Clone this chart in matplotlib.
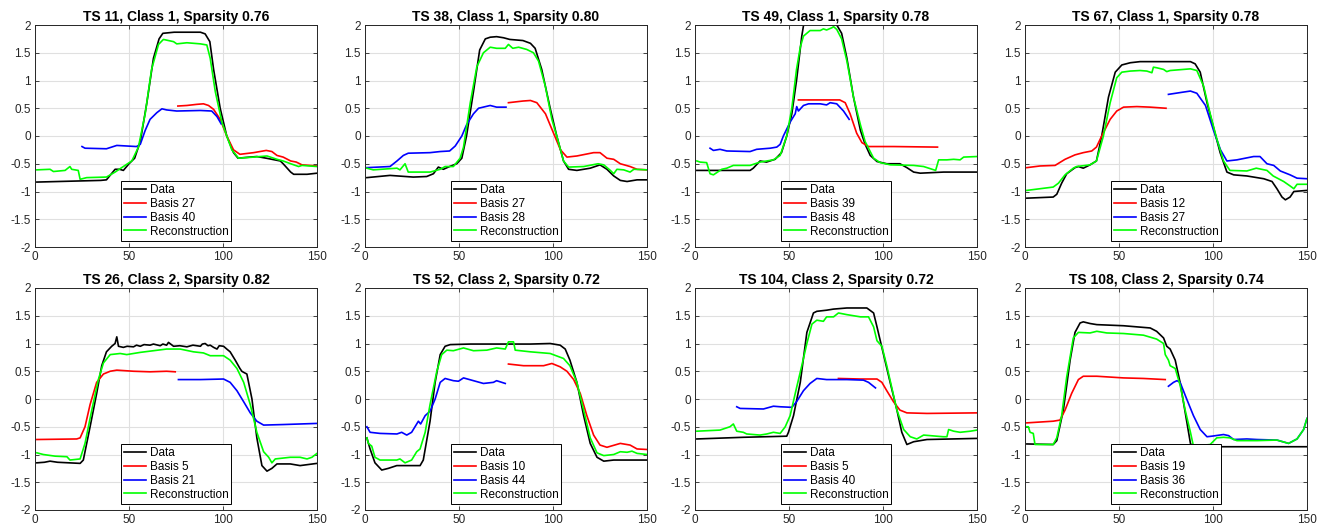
import matplotlib
matplotlib.use("Agg")
import matplotlib.pyplot as plt

plt.rcParams['font.family'] = ['Liberation Sans', 'DejaVu Sans']

# ---- panel titles and basis labels ----
titles = ["TS 11, Class 1, Sparsity 0.76", "TS 38, Class 1, Sparsity 0.80",
          "TS 49, Class 1, Sparsity 0.78", "TS 67, Class 1, Sparsity 0.78",
          "TS 26, Class 2, Sparsity 0.82", "TS 52, Class 2, Sparsity 0.72",
          "TS 104, Class 2, Sparsity 0.72", "TS 108, Class 2, Sparsity 0.74"]
red_labels = ["Basis 27", "Basis 27", "Basis 39", "Basis 12", "Basis 5", "Basis 10", "Basis 5", "Basis 19"]
blue_labels = ["Basis 40", "Basis 28", "Basis 48", "Basis 27", "Basis 21", "Basis 44", "Basis 40", "Basis 36"]

# ---- TS 11 ----
ts11_data_x = [1, 35, 38, 42.6, 45, 47, 50, 53, 56, 59.5, 63, 66, 68, 74, 88, 90.5, 93, 95, 98.5, 102, 105.6, 108, 111, 118, 123, 130.5, 132, 136, 137.6, 144.7, 150]
ts11_data_y = [-0.83, -0.8, -0.79, -0.6, -0.6, -0.62, -0.5, -0.4, -0.1, 0.6, 1.4, 1.75, 1.85, 1.87, 1.87, 1.84, 1.7, 1.2, 0.5, 0.0, -0.3, -0.4, -0.39, -0.37, -0.4, -0.45, -0.5, -0.65, -0.69, -0.69, -0.67]
ts11_red_x = [76, 80.8, 86, 89.6, 92.3, 95, 98.5, 102, 105.6, 109, 116.3, 123, 126, 128.7, 132, 136, 139, 142, 150]
ts11_red_y = [0.54, 0.55, 0.57, 0.58, 0.55, 0.48, 0.3, 0.0, -0.25, -0.33, -0.3, -0.26, -0.28, -0.35, -0.38, -0.45, -0.47, -0.52, -0.54]
ts11_blue_x = [25, 26.6, 38, 43.5, 54, 56, 58.6, 61.2, 64.8, 67.5, 70, 75.4, 88, 94, 96.8, 99]
ts11_blue_y = [-0.19, -0.22, -0.23, -0.17, -0.19, -0.15, 0.1, 0.3, 0.42, 0.49, 0.47, 0.45, 0.46, 0.45, 0.35, 0.22]
ts11_rec_x = [1, 8, 9.8, 16, 18.6, 19.5, 23, 24, 27.5, 38, 42.6, 47, 51.5, 55, 58.6, 62, 65.7, 68.3, 73.7, 75.4, 80.8, 88, 91.4, 93.2, 95.9, 99.4, 102, 104.7, 108.3, 116.3, 123.4, 128.7, 132, 136, 140.2, 142, 150]
ts11_rec_y = [-0.61, -0.6, -0.64, -0.62, -0.55, -0.6, -0.62, -0.78, -0.75, -0.74, -0.65, -0.55, -0.45, -0.2, 0.4, 1.2, 1.65, 1.74, 1.7, 1.66, 1.68, 1.66, 1.64, 1.4, 0.8, 0.25, 0.0, -0.25, -0.4, -0.38, -0.36, -0.42, -0.45, -0.5, -0.55, -0.53, -0.55]

# ---- TS 38 ----
ts38_data_x = [1, 13.3, 25.7, 32.8, 36.4, 39, 41.7, 45, 48.8, 51.5, 54, 57.7, 61, 64, 66.6, 70, 73.7, 77, 84, 88, 90.5, 94, 98.5, 102, 105.6, 108.3, 112.7, 119.8, 125, 128.7, 132.3, 135.8, 139.4, 144.7, 150]
ts38_data_y = [-0.75, -0.71, -0.74, -0.73, -0.68, -0.56, -0.6, -0.55, -0.5, -0.4, 0.0, 0.8, 1.55, 1.75, 1.78, 1.79, 1.77, 1.74, 1.72, 1.67, 1.58, 1.2, 0.5, 0.0, -0.45, -0.6, -0.62, -0.58, -0.52, -0.6, -0.72, -0.8, -0.82, -0.79, -0.79]
ts38_red_x = [76.3, 84, 88, 91.4, 96, 100.3, 104, 107.4, 112.7, 121.6, 125, 128.7, 132.3, 135.8, 141, 144.7, 150]
ts38_red_y = [0.6, 0.63, 0.64, 0.6, 0.4, 0.05, -0.25, -0.38, -0.36, -0.3, -0.3, -0.4, -0.42, -0.5, -0.55, -0.6, -0.61]
ts38_blue_x = [1, 13.3, 17, 20.4, 23, 34.6, 40, 45, 48, 51.5, 54, 57.7, 60.4, 66.6, 70, 75]
ts38_blue_y = [-0.57, -0.55, -0.45, -0.35, -0.31, -0.3, -0.28, -0.27, -0.18, 0.0, 0.2, 0.4, 0.5, 0.55, 0.52, 0.52]
ts38_rec_x = [1, 4.4, 17, 18.6, 21.3, 23, 34.6, 40, 42.6, 47, 50.6, 52.4, 56, 59.5, 63, 66.6, 70, 74.6, 76.3, 78.6, 81.7, 86, 89.6, 92.3, 95.9, 99.4, 102, 105.6, 108.3, 116.3, 124, 127, 130.5, 132.3, 134, 137.6, 141, 143, 150]
ts38_rec_y = [-0.58, -0.61, -0.58, -0.61, -0.5, -0.65, -0.65, -0.6, -0.55, -0.55, -0.4, -0.2, 0.6, 1.25, 1.5, 1.6, 1.58, 1.58, 1.65, 1.58, 1.6, 1.56, 1.5, 1.35, 0.9, 0.3, 0.0, -0.45, -0.56, -0.55, -0.5, -0.52, -0.62, -0.68, -0.6, -0.61, -0.65, -0.6, -0.61]

# ---- TS 49 ----
ts49_data_x = [1, 29.3, 31, 34.6, 38, 42.6, 46, 48.8, 51.5, 54, 56.8, 58, 60, 74, 75.4, 78, 80.8, 84.3, 88, 90.5, 93.2, 96.8, 102, 109, 112.7, 116.3, 119.8, 132.3, 150]
ts49_data_y = [-0.62, -0.62, -0.58, -0.45, -0.47, -0.42, -0.3, 0.0, 0.4, 1.0, 1.8, 2.05, 2.1, 2.1, 2.0, 1.85, 1.4, 0.7, 0.1, -0.15, -0.35, -0.46, -0.5, -0.5, -0.57, -0.65, -0.67, -0.65, -0.65]
ts49_red_x = [55, 77, 79.9, 82.5, 86, 88.8, 92.3, 105.6, 129]
ts49_red_y = [0.65, 0.65, 0.6, 0.4, 0.05, -0.12, -0.19, -0.19, -0.2]
ts49_blue_x = [8, 9.8, 13.3, 16.9, 29.3, 32.8, 40, 43.5, 45.3, 47, 50.6, 53.3, 54.1, 55, 57.7, 60.4, 66.6, 70, 71.9, 75.4, 79, 82]
ts49_blue_y = [-0.22, -0.26, -0.24, -0.27, -0.28, -0.24, -0.22, -0.2, -0.15, 0.0, 0.25, 0.4, 0.53, 0.45, 0.55, 0.58, 0.58, 0.56, 0.6, 0.58, 0.45, 0.3]
ts49_rec_x = [1, 2.7, 6.2, 8, 9.8, 14.2, 16.9, 20.4, 29.3, 34.6, 41.7, 45.3, 48.8, 51.5, 54, 56, 57.7, 61.2, 66.6, 68.3, 70, 72.8, 73.7, 75.4, 78, 80.8, 84.3, 88, 90.5, 95, 98.5, 104, 116.3, 121.6, 128, 129.6, 134, 137.6, 141, 142.9, 150]
ts49_rec_y = [-0.45, -0.47, -0.48, -0.68, -0.7, -0.6, -0.58, -0.53, -0.53, -0.47, -0.43, -0.35, 0.0, 0.5, 1.2, 1.6, 1.8, 1.9, 1.9, 1.93, 1.91, 1.95, 1.97, 1.92, 1.75, 1.35, 0.7, 0.2, -0.1, -0.4, -0.48, -0.52, -0.53, -0.55, -0.62, -0.43, -0.43, -0.42, -0.43, -0.38, -0.37]

# ---- TS 67 ----
ts67_data_x = [1, 15, 16.9, 19.5, 22.2, 26.6, 28.4, 31, 34.6, 38, 40.8, 44.4, 48, 51.5, 56, 61.2, 88, 90.5, 93.2, 96.8, 100.3, 103.8, 107.4, 111, 118, 127, 131.4, 134, 136.7, 138.5, 141, 143, 150]
ts67_data_y = [-1.12, -1.1, -1.05, -0.85, -0.68, -0.57, -0.55, -0.58, -0.52, -0.45, 0.0, 0.7, 1.15, 1.28, 1.32, 1.34, 1.34, 1.3, 1.15, 0.6, 0.15, -0.3, -0.65, -0.7, -0.72, -0.77, -0.82, -0.95, -1.1, -1.15, -1.1, -1.0, -0.98]
ts67_red_x = [1, 8, 16, 21.3, 26.6, 31, 35.5, 38, 40.8, 45.3, 48.8, 52.4, 59.5, 66.6, 75]
ts67_red_y = [-0.57, -0.54, -0.53, -0.42, -0.34, -0.3, -0.27, -0.2, 0.0, 0.3, 0.45, 0.52, 0.53, 0.52, 0.5]
ts67_blue_x = [76.3, 84, 88, 91.4, 96, 100.3, 104, 107.4, 112.7, 121.6, 125, 128.7, 132.3, 135.8, 141, 144.7, 150]
ts67_blue_y = [0.75, 0.79, 0.81, 0.77, 0.55, 0.1, -0.25, -0.45, -0.43, -0.37, -0.37, -0.5, -0.53, -0.63, -0.7, -0.76, -0.77]
ts67_rec_x = [1, 15, 17.8, 21.3, 25.7, 27.5, 34.6, 38, 41.7, 45.3, 48.8, 51.5, 56, 61.2, 64.8, 67.5, 68.3, 70, 73.7, 75.4, 77.2, 88, 91.4, 95, 98.5, 102, 105.6, 109, 118, 123, 128.7, 132, 137.6, 141, 143, 144.7, 150]
ts67_rec_y = [-0.98, -0.92, -0.85, -0.7, -0.58, -0.55, -0.52, -0.45, 0.0, 0.6, 1.05, 1.15, 1.17, 1.18, 1.17, 1.14, 1.24, 1.23, 1.2, 1.16, 1.18, 1.21, 1.18, 0.9, 0.4, -0.05, -0.45, -0.62, -0.63, -0.58, -0.62, -0.72, -0.82, -0.9, -0.95, -0.87, -0.87]

# ---- TS 26 ----
ts26_data_x = [1, 5, 8, 12, 18, 24, 25.7, 29.3, 32.8, 35.5, 38, 40.8, 42.6, 43.5, 44.4, 47, 49, 52.4, 54, 56, 58, 61.2, 63, 66.6, 68, 70, 71, 73.7, 77, 80.8, 84, 88, 89, 90.5, 92, 93.2, 95, 96.8, 98, 100.3, 102, 103.8, 106.5, 109, 110, 111, 112.7, 115.4, 118, 120.7, 123.4, 126, 128.7, 135.8, 141, 150]
ts26_data_y = [-1.15, -1.14, -1.12, -1.14, -1.15, -1.16, -1.1, -0.5, 0.1, 0.6, 0.85, 0.95, 1.0, 1.12, 0.95, 0.93, 0.95, 0.94, 0.97, 0.95, 0.98, 0.97, 0.99, 0.96, 0.99, 0.97, 1.02, 0.95, 0.96, 0.94, 0.97, 0.95, 0.99, 1.0, 0.96, 0.97, 0.93, 0.9, 0.96, 0.95, 0.9, 0.85, 0.7, 0.55, 0.5, 0.48, 0.45, 0.0, -0.7, -1.2, -1.3, -1.25, -1.17, -1.17, -1.2, -1.16]
ts26_red_x = [1, 22.2, 24, 26.6, 29.3, 32.8, 36.4, 40, 43.5, 52.4, 61.2, 70, 74.6]
ts26_red_y = [-0.73, -0.72, -0.7, -0.5, -0.1, 0.3, 0.45, 0.5, 0.52, 0.5, 0.49, 0.5, 0.49]
ts26_blue_x = [76.3, 88, 100.3, 103.8, 107.4, 111, 114.5, 118, 121.6, 132.3, 150]
ts26_blue_y = [0.35, 0.35, 0.36, 0.3, 0.15, -0.05, -0.25, -0.4, -0.47, -0.46, -0.44]
ts26_rec_x = [1, 4.4, 10.7, 17, 18.6, 24, 26.6, 30.2, 33.7, 36.4, 40, 45.3, 48.8, 56, 63, 70, 77.2, 84.3, 89.6, 93.2, 100.3, 103.8, 107.4, 111, 114.5, 118, 121.6, 124.3, 126, 127.8, 135.8, 141, 144.7, 147.3, 150]
ts26_rec_y = [-0.97, -1.0, -1.03, -1.04, -1.1, -1.08, -0.8, -0.2, 0.35, 0.65, 0.8, 0.82, 0.8, 0.84, 0.87, 0.9, 0.9, 0.85, 0.83, 0.78, 0.78, 0.7, 0.55, 0.3, -0.1, -0.6, -0.95, -1.05, -1.15, -1.08, -1.05, -1.05, -1.08, -1.05, -0.98]

# ---- TS 52 ----
ts52_data_x = [1, 2.7, 5.3, 8.9, 12.4, 16.9, 29.3, 31, 34.6, 37.3, 40, 42.6, 45.3, 56, 88, 98.5, 103.8, 106.5, 109, 112.7, 116.3, 119.8, 123.4, 127, 132.3, 150]
ts52_data_y = [-0.7, -0.9, -1.15, -1.28, -1.25, -1.2, -1.2, -1.1, -0.4, 0.3, 0.8, 0.95, 0.98, 0.99, 0.99, 1.0, 0.97, 0.9, 0.7, 0.3, -0.3, -0.8, -1.05, -1.12, -1.1, -1.1]
ts52_red_x = [76.3, 84.3, 95, 99.4, 103.8, 107.4, 111, 114.5, 118, 121.6, 125, 128.7, 135.8, 141, 144.7, 150]
ts52_red_y = [0.63, 0.6, 0.6, 0.64, 0.58, 0.5, 0.35, 0.1, -0.3, -0.65, -0.83, -0.87, -0.8, -0.83, -0.9, -0.91]
ts52_blue_x = [1, 2.7, 8, 17, 19.5, 22.2, 24.8, 27.5, 28.4, 29.6, 32, 34.6, 37.3, 40, 42.6, 47, 49.7, 52.4, 57.7, 63, 68.3, 70, 74.6]
ts52_blue_y = [-0.5, -0.6, -0.62, -0.63, -0.6, -0.65, -0.6, -0.45, -0.4, -0.45, -0.3, -0.22, 0.0, 0.3, 0.37, 0.33, 0.32, 0.38, 0.33, 0.28, 0.3, 0.33, 0.28]
ts52_rec_x = [1, 1.8, 3.6, 5.3, 8, 16.9, 18.6, 21.3, 24.8, 27.5, 29.3, 32, 34.6, 38.2, 40.8, 43.5, 47, 52.4, 57.7, 64.8, 70, 74.6, 76.3, 79, 79.9, 88, 98.5, 105.6, 109, 112.7, 116.3, 119.8, 123.4, 127, 132.3, 135.8, 139.4, 142, 144.7, 150]
ts52_rec_y = [-0.7, -0.8, -0.85, -1.05, -1.1, -1.1, -1.08, -1.15, -1.1, -0.95, -0.9, -0.6, -0.1, 0.5, 0.8, 0.88, 0.87, 0.92, 0.87, 0.88, 0.92, 0.9, 1.03, 1.03, 0.88, 0.85, 0.82, 0.73, 0.6, 0.3, -0.2, -0.7, -0.97, -1.02, -1.0, -0.95, -0.96, -0.94, -0.98, -1.0]

# ---- TS 104 ----
ts104_data_x = [1, 25.7, 48.8, 49.7, 52.4, 56, 59.5, 63, 64.8, 70, 73.7, 80.8, 91.4, 95, 96.8, 100.3, 103.8, 107.4, 110, 112.7, 116.3, 123.4, 150]
ts104_data_y = [-0.72, -0.69, -0.67, -0.6, -0.3, 0.3, 1.2, 1.55, 1.58, 1.6, 1.62, 1.64, 1.64, 1.55, 1.3, 0.8, 0.3, -0.2, -0.6, -0.82, -0.77, -0.73, -0.71]
ts104_red_x = [76.3, 88, 96.8, 99.4, 102, 105.6, 109, 112.7, 123.4, 150]
ts104_red_y = [0.37, 0.36, 0.36, 0.3, 0.15, -0.05, -0.2, -0.25, -0.26, -0.25]
ts104_blue_x = [22.2, 24, 36.4, 41.7, 45.3, 51.5, 54, 57.7, 61.2, 64.8, 70, 80.8, 89.6, 92.3, 96]
ts104_blue_y = [-0.14, -0.17, -0.18, -0.13, -0.14, -0.15, -0.05, 0.15, 0.28, 0.37, 0.35, 0.35, 0.34, 0.3, 0.2]
ts104_rec_x = [1, 13.3, 18.6, 20.4, 22.2, 25.7, 27.5, 34.6, 38.2, 41.7, 45.3, 48, 50.6, 54, 56.8, 59.5, 62.2, 64.8, 68.3, 70, 73.7, 76.3, 80.8, 88, 92.3, 95, 96.8, 99.4, 102, 104.7, 107.4, 111, 114.5, 118, 121.6, 132, 134, 134.9, 137.6, 141, 146.5, 150]
ts104_rec_y = [-0.58, -0.56, -0.5, -0.45, -0.58, -0.6, -0.63, -0.65, -0.63, -0.6, -0.62, -0.5, -0.3, 0.2, 0.6, 1.0, 1.35, 1.42, 1.4, 1.48, 1.48, 1.55, 1.52, 1.48, 1.48, 1.3, 1.05, 0.95, 0.6, 0.2, -0.2, -0.55, -0.68, -0.72, -0.65, -0.68, -0.68, -0.55, -0.58, -0.6, -0.58, -0.56]

# ---- TS 108 ----
ts108_data_x = [1, 15, 16.9, 20.4, 24, 26.6, 29.3, 31, 34.6, 38.2, 52.4, 63, 66.6, 70, 73.7, 75.4, 77.2, 79.9, 82.5, 86, 88, 89.6, 92, 105.6, 150]
ts108_data_y = [-0.81, -0.82, -0.75, -0.2, 0.7, 1.2, 1.37, 1.39, 1.36, 1.34, 1.32, 1.29, 1.28, 1.22, 1.1, 0.95, 0.9, 0.7, 0.3, -0.4, -0.8, -0.88, -0.86, -0.86, -0.86]
ts108_red_x = [1, 15, 18.6, 21.3, 24.8, 28.4, 31, 38.2, 52.4, 63, 74.6]
ts108_red_y = [-0.43, -0.4, -0.38, -0.2, 0.1, 0.35, 0.41, 0.41, 0.38, 0.37, 0.35]
ts108_blue_x = [76.3, 79, 80.8, 82.5, 86, 89.6, 93.2, 96.8, 99.4, 105.6, 108.3, 111, 118, 123.4, 134, 140.2, 144.7, 148.2, 150]
ts108_blue_y = [0.23, 0.3, 0.33, 0.3, 0.0, -0.3, -0.55, -0.68, -0.67, -0.64, -0.66, -0.73, -0.72, -0.73, -0.74, -0.8, -0.72, -0.55, -0.35]
ts108_rec_x = [1, 1.8, 2.7, 4.4, 5.3, 15, 16.9, 19.5, 22.2, 25.7, 28.4, 34.6, 38.2, 43.5, 52.4, 63, 70, 73.7, 74.6, 76.3, 77.2, 79.9, 82.5, 85.2, 88, 89.6, 98.5, 102, 105.6, 109, 112.7, 123.4, 134, 140.2, 144.7, 148.2, 150]
ts108_rec_y = [-0.5, -0.5, -0.6, -0.62, -0.82, -0.82, -0.7, -0.3, 0.4, 1.1, 1.2, 1.19, 1.22, 1.19, 1.18, 1.15, 1.08, 1.0, 0.8, 0.7, 0.6, 0.55, 0.25, -0.2, -0.6, -0.85, -0.82, -0.7, -0.69, -0.7, -0.75, -0.75, -0.74, -0.8, -0.72, -0.55, -0.35]

data_x = [ts11_data_x, ts38_data_x, ts49_data_x, ts67_data_x, ts26_data_x, ts52_data_x, ts104_data_x, ts108_data_x]
data_y = [ts11_data_y, ts38_data_y, ts49_data_y, ts67_data_y, ts26_data_y, ts52_data_y, ts104_data_y, ts108_data_y]
red_x = [ts11_red_x, ts38_red_x, ts49_red_x, ts67_red_x, ts26_red_x, ts52_red_x, ts104_red_x, ts108_red_x]
red_y = [ts11_red_y, ts38_red_y, ts49_red_y, ts67_red_y, ts26_red_y, ts52_red_y, ts104_red_y, ts108_red_y]
blue_x = [ts11_blue_x, ts38_blue_x, ts49_blue_x, ts67_blue_x, ts26_blue_x, ts52_blue_x, ts104_blue_x, ts108_blue_x]
blue_y = [ts11_blue_y, ts38_blue_y, ts49_blue_y, ts67_blue_y, ts26_blue_y, ts52_blue_y, ts104_blue_y, ts108_blue_y]
rec_x = [ts11_rec_x, ts38_rec_x, ts49_rec_x, ts67_rec_x, ts26_rec_x, ts52_rec_x, ts104_rec_x, ts108_rec_x]
rec_y = [ts11_rec_y, ts38_rec_y, ts49_rec_y, ts67_rec_y, ts26_rec_y, ts52_rec_y, ts104_rec_y, ts108_rec_y]

x_ticks = [0, 50, 100, 150]
y_ticks = [-2, -1.5, -1, -0.5, 0, 0.5, 1, 1.5, 2]
y_tick_labels = ["-2", "-1.5", "-1", "-0.5", "0", "0.5", "1", "1.5", "2"]

W, H = 1323, 529
fig = plt.figure(figsize=(W / 100, H / 100), dpi=100)

lefts = [35, 365, 695, 1025]
tops = [25, 288]
ax_w, ax_h = 282, 222

for i in range(8):
    row, col = divmod(i, 4)
    ax = fig.add_axes([lefts[col] / W, 1 - (tops[row] + ax_h) / H, ax_w / W, ax_h / H])
    ax.plot(data_x[i], data_y[i], color='black', lw=1.2, label='Data')
    ax.plot(red_x[i], red_y[i], color='red', lw=1.2, label=red_labels[i])
    ax.plot(blue_x[i], blue_y[i], color='blue', lw=1.2, label=blue_labels[i])
    ax.plot(rec_x[i], rec_y[i], color='#00ff00', lw=1.2, label='Reconstruction')
    ax.set_xlim(0, 150)
    ax.set_ylim(-2, 2)
    ax.set_xticks(x_ticks)
    ax.set_yticks(y_ticks)
    ax.set_yticklabels(y_tick_labels)
    ax.grid(True, color='#e0e0e0', lw=0.8)
    ax.set_axisbelow(True)
    ax.tick_params(direction='in', length=3, width=0.6, labelsize=8.5, colors='#262626',
                   top=True, right=True, pad=3)
    for s in ax.spines.values():
        s.set_color('#262626')
        s.set_linewidth(0.7)
    ax.set_title(titles[i], fontsize=10, fontweight='bold', pad=3)
    leg = ax.legend(loc='lower center', fontsize=8.5, handlelength=1.9, handletextpad=0.3,
                    labelspacing=0.15, borderpad=0.25, borderaxespad=0.55, fancybox=False,
                    framealpha=1, edgecolor='black')
    leg.get_frame().set_linewidth(0.7)

fig.savefig("out.png", dpi=100)
